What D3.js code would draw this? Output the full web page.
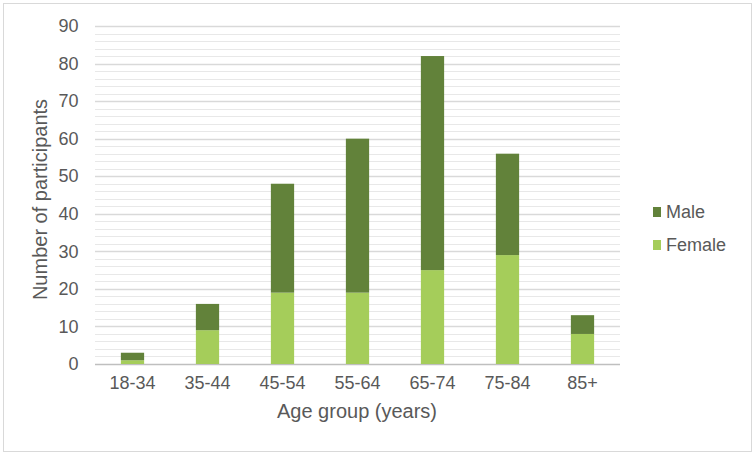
<!DOCTYPE html>
<html>
<head>
<meta charset="utf-8">
<script src="https://cdn.jsdelivr.net/npm/d3@7"></script>
<style>
  body { margin: 0; background: #fff; }
  text { font-family: "Liberation Sans", Arial, sans-serif; }
</style>
</head>
<body>
<div id="chart"></div>
<script>
// Chart data
const ageGroups = ["18-34", "35-44", "45-54", "55-64", "65-74", "75-84", "85+"];
const female = [1, 9, 19, 19, 25, 29, 8];
const male = [2, 7, 29, 41, 57, 27, 5];
const yTicks = [0, 10, 20, 30, 40, 50, 60, 70, 80, 90];

const width = 755, height = 455;
const margin = { top: 26, right: 135, bottom: 91, left: 95 };

const svg = d3.select("#chart").append("svg")
    .attr("width", width)
    .attr("height", height);

// Outer frame
svg.append("rect")
    .attr("x", 3.5).attr("y", 3.5)
    .attr("width", width - 7).attr("height", height - 7)
    .attr("fill", "#fff")
    .attr("stroke", "#d9d9d9");

const x = d3.scaleBand()
    .domain(ageGroups)
    .range([margin.left, width - margin.right])
    .paddingInner(0.69)
    .paddingOuter(0.345);

const y = d3.scaleLinear()
    .domain([0, 90])
    .range([height - margin.bottom, margin.top]);

// Minor gridlines every 2
svg.append("g")
    .selectAll("line")
    .data(d3.range(0, 91, 2).filter(v => v % 10 !== 0))
    .enter().append("line")
    .attr("x1", margin.left).attr("x2", width - margin.right)
    .attr("y1", d => Math.round(y(d)) + 0.5).attr("y2", d => Math.round(y(d)) + 0.5)
    .attr("stroke", "#e8e8e8");

// Major gridlines
svg.append("g")
    .selectAll("line")
    .data(yTicks)
    .enter().append("line")
    .attr("x1", margin.left).attr("x2", width - margin.right)
    .attr("y1", d => Math.round(y(d)) + 0.5).attr("y2", d => Math.round(y(d)) + 0.5)
    .attr("stroke", d => d === 0 ? "#bfbfbf" : "#d9d9d9")
    .attr("stroke-width", 1.5);

// Stack the series
const rows = ageGroups.map((g, i) => ({ group: g, Female: female[i], Male: male[i] }));
const series = d3.stack().keys(["Female", "Male"])(rows);
const colors = { Female: "#a5cd5a", Male: "#62823a" };

svg.append("g")
    .selectAll("g")
    .data(series)
    .enter().append("g")
    .attr("fill", d => colors[d.key])
    .selectAll("rect")
    .data(d => d)
    .enter().append("rect")
    .attr("x", d => x(d.data.group))
    .attr("y", d => y(d[1]))
    .attr("height", d => y(d[0]) - y(d[1]))
    .attr("width", x.bandwidth());

// Y axis labels
const yAxis = svg.append("g")
    .attr("transform", `translate(${margin.left - 16.5},0)`)
    .call(d3.axisLeft(y).tickValues(yTicks).tickSize(0).tickPadding(0));
yAxis.select(".domain").remove();
yAxis.selectAll("text")
    .attr("fill", "#595959")
    .style("font-size", "18px");

// X axis labels
const xAxis = svg.append("g")
    .attr("transform", `translate(0,${height - margin.bottom + 12})`)
    .call(d3.axisBottom(x).tickSize(0).tickPadding(0));
xAxis.select(".domain").remove();
xAxis.selectAll("text")
    .attr("fill", "#595959")
    .attr("dy", "0.71em")
    .style("font-size", "18px");

// Axis titles
svg.append("text")
    .attr("x", 357)
    .attr("y", 418)
    .attr("text-anchor", "middle")
    .attr("fill", "#595959")
    .style("font-size", "20px")
    .text("Age group (years)");

svg.append("text")
    .attr("transform", "translate(46.5,199.5) rotate(-90)")
    .attr("text-anchor", "middle")
    .attr("fill", "#595959")
    .style("font-size", "20px")
    .text("Number of participants");

// Legend
const legendItems = [
    { key: "Male", yPos: 212 },
    { key: "Female", yPos: 245 }
];
const legend = svg.append("g")
    .selectAll("g")
    .data(legendItems)
    .enter().append("g")
    .attr("transform", d => `translate(653,${d.yPos})`);
legend.append("rect")
    .attr("x", 0).attr("y", -5)
    .attr("width", 8).attr("height", 10)
    .attr("fill", d => colors[d.key]);
legend.append("text")
    .attr("x", 13)
    .attr("dy", "0.35em")
    .attr("fill", "#595959")
    .style("font-size", "18px")
    .text(d => d.key);
</script>
</body>
</html>
